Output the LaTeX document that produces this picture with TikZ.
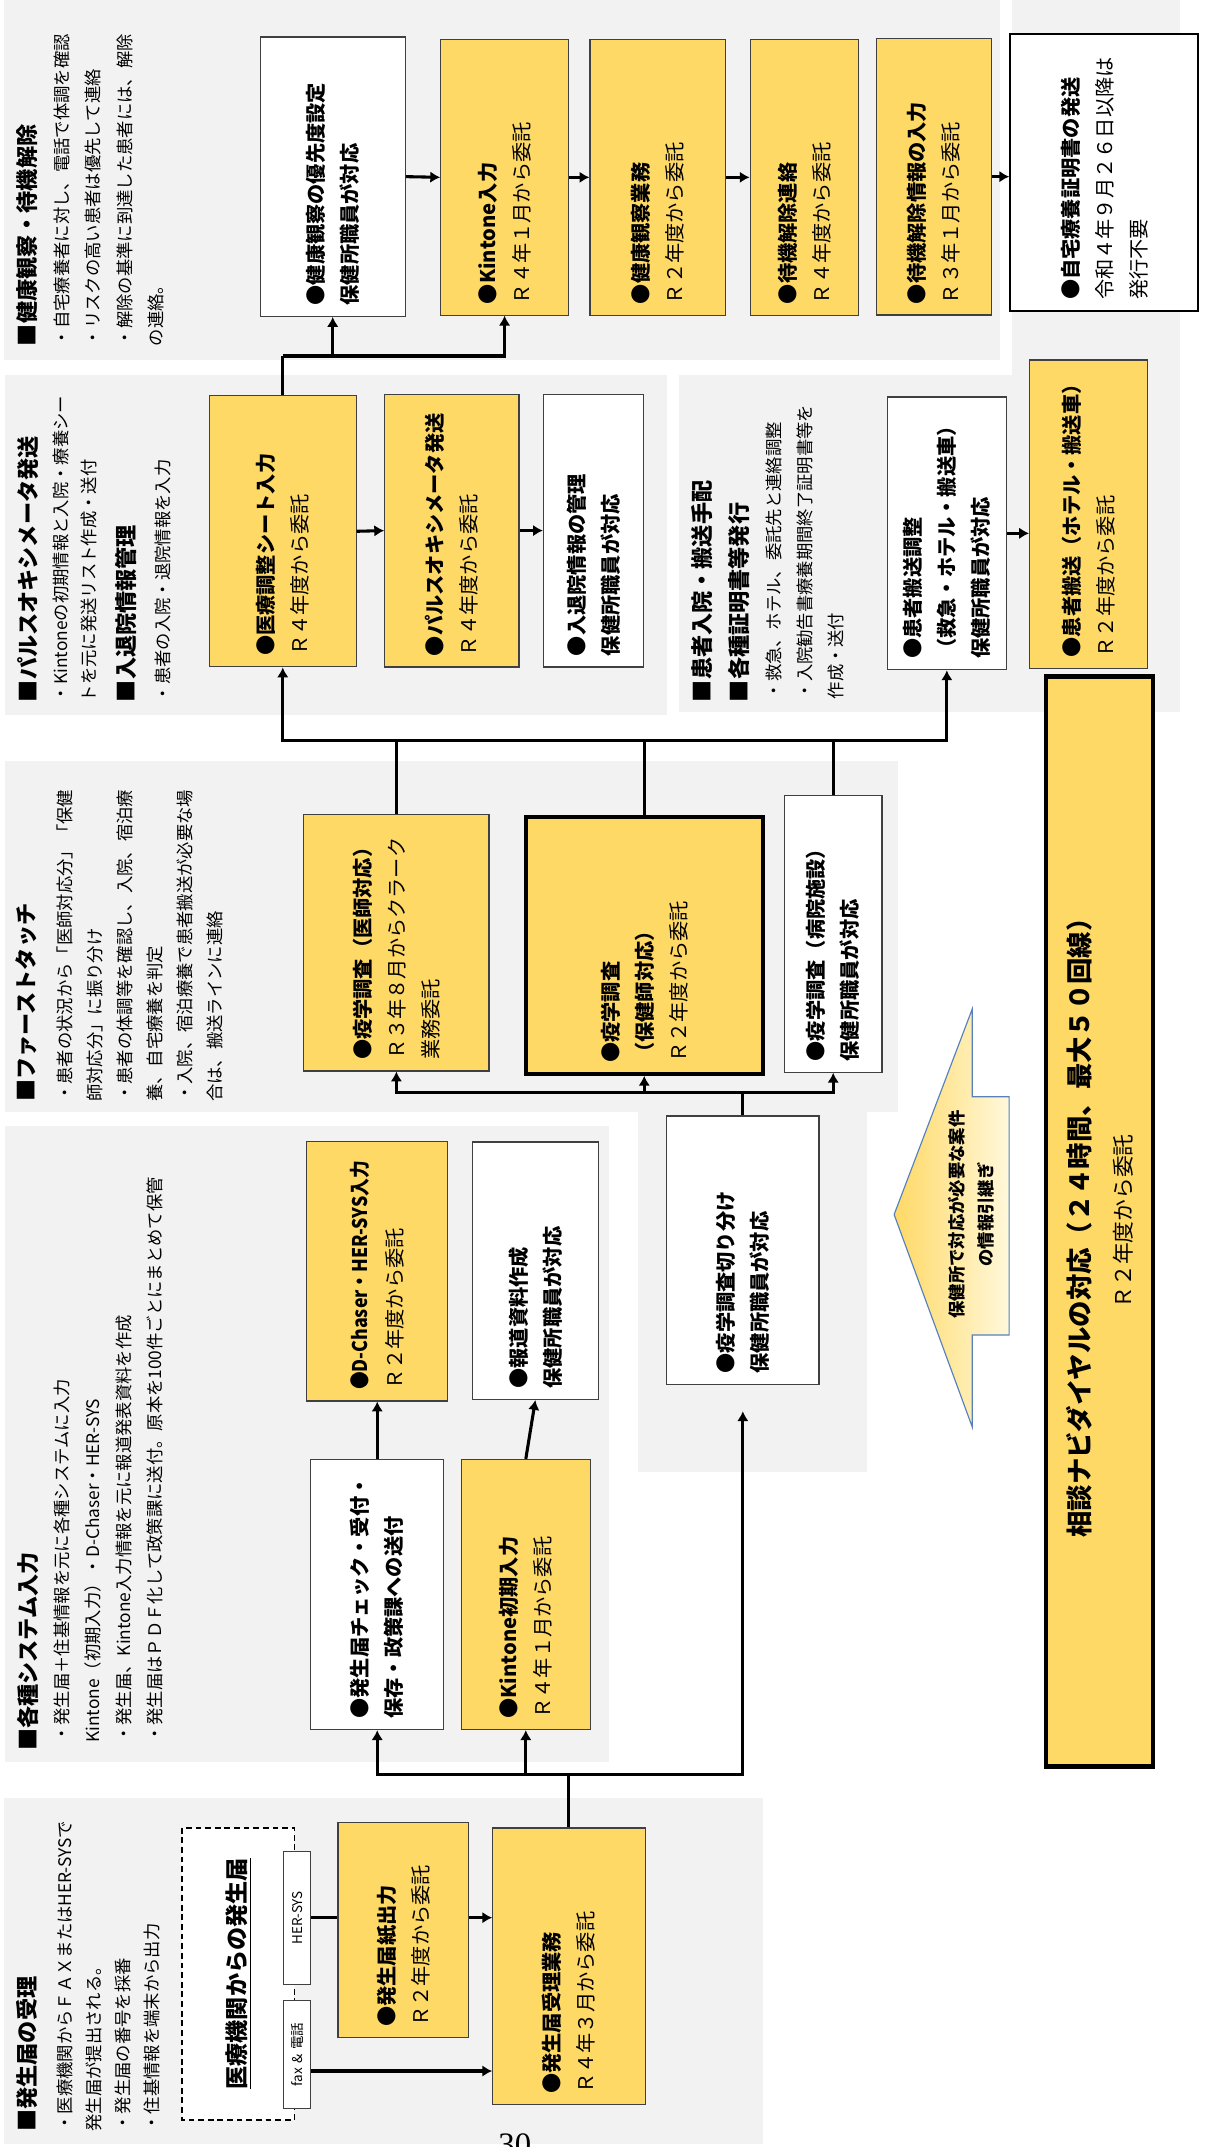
\documentclass[tikz,border=0pt]{standalone}
\usepackage{fontspec}
\setmainfont{Noto Sans CJK JP}
\newfontfamily\numfont{Liberation Serif}
\usetikzlibrary{arrows.meta}
\definecolor{boxyellow}{HTML}{FFD966}
\definecolor{secgrey}{HTML}{F2F2F2}
\definecolor{boxline}{HTML}{404040}
\definecolor{arrowline}{HTML}{5681BE}
\definecolor{arrowlight}{HTML}{FFF8DA}
\begin{document}
\begin{tikzpicture}[x=0.025cm, y=-0.025cm,
  procbox/.style={rotate=90, draw=boxline, line width=0.6pt,
    inner xsep=0.2cm, inner ysep=0pt, align=left,
    font=\fontsize{10.5}{17.7}\selectfont},
  ybox/.style={procbox, fill=boxyellow},
  wbox/.style={procbox, fill=white},
  sectitle/.style={rotate=90, anchor=base west, inner sep=0pt,
    font=\fontsize{11.5}{14}\selectfont\bfseries},
  secbody/.style={rotate=90, anchor=north west, inner sep=0pt,
    align=left, font=\fontsize{9}{#1}\selectfont},
  secbody/.default=15.6,
  conn/.style={line width=1.6pt},
  arr/.style={conn, -{Latex[length=1.8mm,width=2.1mm]}}]
  \useasboundingbox (0,0) rectangle (881,1568);

  % section backgrounds
  \fill[secgrey] (3,0) rectangle (730,263);
  \fill[secgrey] (739,0) rectangle (862,274);
  \fill[secgrey] (4,274) rectangle (487,522);
  \fill[secgrey] (496,274) rectangle (862,520);
  \fill[secgrey] (4,556) rectangle (656,812);
  \fill[secgrey] (466,812) rectangle (633,1075);
  \fill[secgrey] (4,822) rectangle (445,1287);
  \fill[secgrey] (3,1313) rectangle (557,1566);

  % section texts
  \node[sectitle] (hdHealth) at (26,253) {■健康観察・待機解除};
  \node[secbody=16.3] (txHealth) at (39,253) {・自宅療養者に対し、電話で体調を確認\\・リスクの高い患者は優先して連絡\\・解除の基準に到達した患者には、解除\\の連絡。};
  \node[sectitle] (hdPulse) at (27,513) {■パルスオキシメータ発送};
  \node[secbody=14.9] (txPulse) at (38,513) {・Kintoneの初期情報と入院・療養シー\\トを元に発送リスト作成・送付};
  \node[sectitle] (hdAdm) at (98,513) {■入退院情報管理};
  \node[secbody] (txAdm) at (113,513) {・患者の入院・退院情報を入力};
  \node[sectitle] (hdPatient) at (519,513) {■患者入院・搬送手配};
  \node[sectitle] (hdCert) at (546,513) {■各種証明書等発行};
  \node[secbody=16] (txPatient) at (559,511) {・救急、ホテル、委託先と連絡調整\\・入院勧告書療養期間終了証明書等を\\作成・送付};
  \node[sectitle] (hdFirst) at (25,805) {■ファーストタッチ};
  \node[secbody=15.6] (txFirst) at (41,805) {・患者の状況から「医師対応分」「保健\\師対応分」に振り分け\\・患者の体調等を確認し、入院、宿泊療\\養、自宅療養を判定\\・入院、宿泊療養で患者搬送が必要な場\\合は、搬送ラインに連絡};
  \node[sectitle] (hdSys) at (27,1279) {■各種システム入力};
  \node[secbody=16.1] (txSys) at (39,1273) {・発生届＋住基情報を元に各種システムに入力\\Kintone（初期入力）・D-Chaser・HER-SYS\\・発生届、Kintone入力情報を元に報道発表資料を作成\\・発生届はＰＤＦ化して政策課に送付。原本を100件ごとにまとめて保管};
  \node[sectitle] (hdRecv) at (26,1557) {■発生届の受理};
  \node[secbody=15.1] (txRecv) at (41,1557) {・医療機関からＦＡＸまたはHER-SYSで\\発生届が提出される。\\・発生届の番号を採番\\・住基情報を端末から出力};

  % health observation row
  \node[wbox, minimum width=5.10cm, minimum height=2.65cm, text width=4.70cm] (yusen) at (243,129) {\bfseries ●健康観察の優先度設定\\保健所職員が対応};
  \node[ybox, minimum width=5.03cm, minimum height=2.33cm, text width=4.63cm] (kin) at (368.5,129.5) {\textbf{●Kintone入力}\\Ｒ４年１月から委託};
  \node[ybox, minimum width=5.03cm, minimum height=2.48cm, text width=4.63cm] (kenkou) at (480.5,129.5) {\textbf{●健康観察業務}\\Ｒ２年度から委託};
  \node[ybox, minimum width=5.03cm, minimum height=1.98cm, text width=4.63cm] (taiki) at (587.5,129.5) {\textbf{●待機解除連絡}\\Ｒ４年度から委託};
  \node[ybox, minimum width=5.05cm, minimum height=2.10cm, text width=4.65cm] (taikiin) at (682,129) {\textbf{●待機解除情報の入力}\\Ｒ３年１月から委託};
  \node[wbox, draw=black, line width=1.1pt, minimum width=5.05cm, minimum height=3.43cm, text width=4.65cm] (shomei) at (806.5,126) {\textbf{●自宅療養証明書の発送}\\令和４年９月２６日以降は\\発行不要};

  % pulse oximeter and transport row
  \node[ybox, minimum width=4.95cm, minimum height=2.68cm, text width=4.55cm] (iryo) at (206.5,388) {\textbf{●医療調整シート入力}\\Ｒ４年度から委託};
  \node[ybox, minimum width=4.98cm, minimum height=2.45cm, text width=4.58cm] (pulse) at (330,387.5) {\textbf{●パルスオキシメータ発送}\\Ｒ４年度から委託};
  \node[wbox, minimum width=4.98cm, minimum height=1.83cm, text width=4.58cm] (nyutai) at (433.5,387.5) {\bfseries ●入退院情報の管理\\保健所職員が対応};
  \node[wbox, minimum width=4.98cm, minimum height=2.18cm, text width=4.58cm] (chosei) at (691.5,389.5) {\bfseries ●患者搬送調整\\（救急・ホテル・搬送車）\\保健所職員が対応};
  \node[ybox, minimum width=5.63cm, minimum height=2.15cm, text width=5.23cm] (hansou) at (795,375.5) {\textbf{●患者搬送（ホテル・搬送車）}\\Ｒ２年度から委託};

  % epidemiological survey
  \node[ybox, minimum width=4.68cm, minimum height=3.38cm, text width=4.28cm] (ishi) at (289.5,688.5) {\textbf{●疫学調査（医師対応）}\\Ｒ３年８月からクラーク\\業務委託};
  \node[ybox, draw=black, line width=2.2pt, minimum width=4.68cm, minimum height=4.33cm, text width=4.28cm] (hokenshi) at (470.5,690.5) {\textbf{●疫学調査}\\\textbf{（保健師対応）}\\Ｒ２年度から委託};
  \node[wbox, minimum width=5.05cm, minimum height=1.78cm, text width=4.65cm] (byoin) at (608.5,682) {\bfseries ●疫学調査（病院施設）\\保健所職員が対応};
  \node[wbox, minimum width=4.90cm, minimum height=2.78cm, text width=4.50cm] (kiri) at (542.5,913) {\bfseries ●疫学調査切り分け\\保健所職員が対応};

  % system input
  \node[ybox, minimum width=4.73cm, minimum height=2.58cm, text width=4.33cm] (dchaser) at (275.5,928.5) {\scalebox{0.88}[1]{\bfseries ●D-Chaser・HER-SYS入力}\\Ｒ２年度から委託};
  \node[wbox, minimum width=4.70cm, minimum height=2.30cm, text width=4.30cm] (hodo) at (391,928) {\bfseries ●報道資料作成\\保健所職員が対応};
  \node[wbox, minimum width=4.93cm, minimum height=2.43cm, text width=4.53cm] (check) at (275.5,1164.5) {\bfseries ●発生届チェック・受付・\\保存・政策課への送付};
  \node[ybox, minimum width=4.93cm, minimum height=2.35cm, text width=4.53cm] (kinsho) at (384,1164.5) {\textbf{●Kintone初期入力}\\Ｒ４年１月から委託};

  % notification receipt
  \node[rotate=90, draw=black, line width=0.9pt, dash pattern=on 3pt off 2pt, fill=white, minimum width=5.33cm, minimum height=2.05cm, inner sep=0pt, font=\fontsize{12}{14}\selectfont\bfseries] (kikan) at (174,1441.5) {\underline{医療機関からの発生届}};
  \node[wbox, align=center, inner xsep=0pt, minimum width=2.43cm, minimum height=0.5cm, text width=2.43cm, font=\fontsize{7}{8}\selectfont] (hersys) at (217,1400.5) {HER-SYS};
  \node[wbox, align=center, inner xsep=0pt, minimum width=1.98cm, minimum height=0.5cm, text width=1.98cm, font=\fontsize{7}{8}\selectfont] (fax) at (217,1500.5) {fax \& 電話};
  \node[ybox, minimum width=3.93cm, minimum height=2.38cm, text width=3.53cm] (kami) at (294.5,1409.5) {\textbf{●発生届紙出力}\\Ｒ２年度から委託};
  \node[ybox, minimum width=5.05cm, minimum height=2.78cm, text width=4.65cm] (juri) at (415.5,1436) {\textbf{●発生届受理業務}\\Ｒ４年３月から委託};

  % navi dial
  \node[ybox, draw=black, line width=2.4pt, align=center, minimum width=19.9cm, minimum height=1.95cm, text width=19.5cm, font=\fontsize{13.7}{22}\selectfont] (navi) at (803,892) {{\bfseries 相談ナビダイヤルの対応（２４時間、最大５０回線）}\\{\fontsize{11.3}{22}\selectfont Ｒ２年度から委託}};
  \shadedraw[left color=boxyellow, right color=arrowlight, draw=arrowline, line width=0.6pt]
    (653,887) -- (710,737) -- (710,801) -- (737,801) -- (737,975) -- (710,975) -- (710,1042) -- cycle;
  \node[rotate=90, align=center, inner sep=0pt, font=\fontsize{9}{15}\selectfont\bfseries] (hikitsugi) at (709.5,887) {保健所で対応が必要な案件\\の情報引継ぎ};

  \node[anchor=base, inner sep=0pt, font=\numfont\fontsize{17}{17}\selectfont] (pgno) at (376,1574) {30};

  % connectors
  \coordinate (jD) at (206.5,260);
  \coordinate (jC) at (466,541);
  \coordinate (jB) at (542.5,798);
  \coordinate (jA) at (415.5,1296);
  \coordinate (faxout) at ([yshift=-0.3cm]fax.south);

  \draw[arr] (yusen.south) -- (kin.north);
  \draw[arr] (kin.south) -- (kenkou.north);
  \draw[arr] (kenkou.south) -- (taiki.north);
  \draw[arr] (taikiin.south) -- (taikiin.south -| shomei.north);
  \draw[conn] (iryo.east) -- (jD);
  \draw[arr] (jD) -| (yusen.west);
  \draw[arr] (jD) -| (kin.west);
  \draw[arr] (iryo.south) -- (pulse.north);
  \draw[arr] (pulse.south) -- (nyutai.north);
  \draw[arr] (chosei.south) -- (chosei.south -| hansou.north);
  \draw[conn] (ishi.east) -- (ishi.east |- jC);
  \draw[conn] (hokenshi.east) -- (hokenshi.east |- jC);
  \draw[conn] (byoin.east) -- (byoin.east |- jC);
  \draw[arr] (jC) -| (iryo.west);
  \draw[arr] (jC) -| (chosei.west);
  \draw[conn] (kiri.east) -- (jB);
  \draw[arr] (jB) -| (ishi.west);
  \draw[arr] (jB) -| (hokenshi.west);
  \draw[arr] (jB) -| (byoin.west);
  \draw[arr] (check.east) -- (dchaser.west);
  \draw[arr] (kinsho.east) -- (hodo.west);
  \draw[conn] (juri.east) -- (jA);
  \draw[arr] (jA) -| (check.west);
  \draw[arr] (jA) -| (kinsho.west);
  \draw[arr, shorten >=0.48cm] (jA) -| (kiri.west);
  \draw[conn] (hersys.south) -- (hersys.south -| kami.north);
  \draw[arr] (kami.south |- hersys.south) -- (hersys.south -| juri.north);
  \draw[arr] (faxout) -- (faxout -| juri.north);
\end{tikzpicture}
\end{document}
